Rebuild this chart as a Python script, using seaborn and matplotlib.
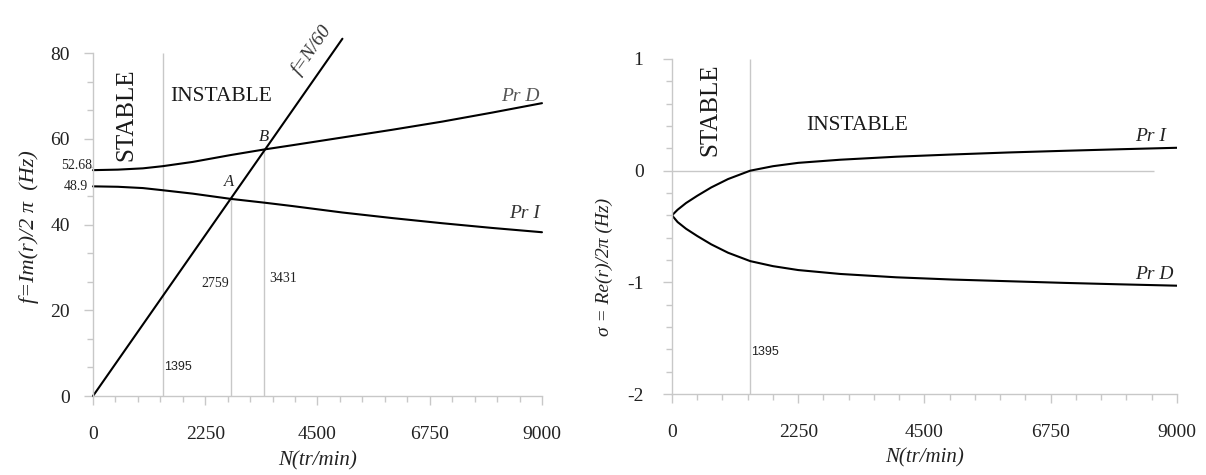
import numpy as np
import pandas as pd
import matplotlib
matplotlib.use('Agg')
from matplotlib import pyplot as plt
from matplotlib.ticker import MultipleLocator
import seaborn as sns

# frequences (partie imaginaire) -- figure de gauche
N_im = [0, 500, 1000, 1395, 2000, 2759, 3431, 4000, 5000, 6000, 7000, 8000, 9000]
f_prd = [52.68, 52.8, 53.1, 53.6, 54.6, 56.2, 57.5, 58.5, 60.3, 62.1, 64.0, 66.1, 68.3]
f_pri = [48.9, 48.8, 48.5, 48.0, 47.2, 45.98, 45.1, 44.3, 42.8, 41.5, 40.3, 39.2, 38.2]
N_line = [0, 5000]
f_line = [0, 5000 / 60]

# amortissement (partie reelle) -- figure de droite
N_re = [0, 100, 250, 450, 700, 1000, 1395, 1800, 2250, 3000, 4000, 5000, 6000, 7000, 8000, 9000]
s_pri = [-0.40, -0.35, -0.29, -0.225, -0.15, -0.075, 0.0, 0.04, 0.07, 0.098, 0.125, 0.145, 0.163, 0.178, 0.192, 0.205]
s_prd = [-0.40, -0.46, -0.52, -0.585, -0.66, -0.735, -0.81, -0.855, -0.89, -0.925, -0.955, -0.975, -0.99, -1.005, -1.018, -1.03]

# vitesses critiques
N_stab = 1395
N_A = 2759
N_B = 3431

x_ticks = [0, 2250, 4500, 6750, 9000]
y_ticks_im = [0, 20, 40, 60, 80]
y_ticks_re = [-2, -1, 0, 1]

sns.set_style("white")
plt.rcParams['font.family'] = ['Liberation Serif', 'DejaVu Serif']
plt.rcParams['axes.unicode_minus'] = False

grey = '#c8c8c8'
fig = plt.figure(figsize=(12.06, 4.75), dpi=100)
ax1 = fig.add_axes([0.0771, 0.1663, 0.3723, 0.7221])
ax2 = fig.add_axes([0.5572, 0.1705, 0.4187, 0.7053])


def style_axes(ax, ymin, ymax, yticks, yminor, ypad):
    ax.set_xlim(0, 9000)
    ax.set_ylim(ymin, ymax)
    ax.set_xticks(x_ticks)
    ax.set_yticks(yticks)
    ax.xaxis.set_minor_locator(MultipleLocator(450))
    ax.yaxis.set_minor_locator(MultipleLocator(yminor))
    for s in ['top', 'right']:
        ax.spines[s].set_visible(False)
    for s in ['left', 'bottom']:
        ax.spines[s].set_color(grey)
        ax.spines[s].set_linewidth(1)
    ax.tick_params(which='both', bottom=True, left=True, top=False, right=False)
    ax.tick_params(which='major', direction='out', length=6.5, width=1, color=grey,
                   labelsize=14, labelcolor='#222222')
    ax.tick_params(which='minor', direction='out', length=4, width=1, color=grey)
    ax.tick_params(axis='x', which='major', pad=15)
    ax.tick_params(axis='y', which='major', pad=ypad)
    ax.set_xlabel('')
    ax.set_ylabel('')
    ax.text(0.5, -0.19, 'N(tr/min)', transform=ax.transAxes, ha='center', va='center',
            fontsize=15, fontstyle='italic', color='#222222')


# ---- gauche ----
ax1.vlines(N_stab, 0, 80, color=grey, lw=1)
ax1.vlines(N_A, 0, N_A / 60, color=grey, lw=1)
ax1.vlines(N_B, 0, N_B / 60, color=grey, lw=1)
sns.lineplot(x=N_im, y=f_prd, ax=ax1, color='black', lw=1.5, sort=False, estimator=None)
sns.lineplot(x=N_im, y=f_pri, ax=ax1, color='black', lw=1.5, sort=False, estimator=None)
sns.lineplot(x=N_line, y=f_line, ax=ax1, color='black', lw=1.5, sort=False, estimator=None)
style_axes(ax1, 0, 80, y_ticks_im, 20 / 3, 10)
for t in ax1.get_lines():
    t.set_clip_on(False)

ax1.text(664, 65.5, 'STABLE', rotation=90, ha='center', va='center', fontsize=18, color='#1a1a1a')
ax1.text(2576, 69.8, 'INSTABLE', ha='center', va='center', fontsize=15.5, color='#1a1a1a')
ax1.text(4383, 80.7, 'f=N/60', rotation=55, ha='center', va='center', fontsize=14,
         fontstyle='italic', color='#333333')
ax1.text(8575, 69.8, 'Pr D', ha='center', va='center', fontsize=14, fontstyle='italic', color='#555555')
ax1.text(8658, 42.6, 'Pr I', ha='center', va='center', fontsize=14, fontstyle='italic', color='#333333')
ax1.text(3424, 60.5, 'B', ha='center', va='center', fontsize=12, fontstyle='italic', color='#222222')
ax1.text(2734, 50.0, 'A', ha='center', va='center', fontsize=12, fontstyle='italic', color='#222222')
ax1.text(-20, 53.7, '52.68', ha='right', va='center', fontsize=10, color='#222222', clip_on=False)
ax1.text(-90, 48.8, '48.9', ha='right', va='center', fontsize=10, color='#222222', clip_on=False)
ax1.text(N_A - 40, 26.3, str(N_A), ha='right', va='center', fontsize=10, color='#222222')
ax1.text(N_B + 100, 27.3, str(N_B), ha='left', va='center', fontsize=10, color='#222222')
ax1.text(N_stab + 20, 6.8, str(N_stab), ha='left', va='center', fontsize=9,
         family=['Liberation Sans', 'DejaVu Sans'], color='#222222')
fig.text(29 / 1206, 1 - 227 / 475, r'f=Im(r)/2 π  (Hz)', rotation=90, ha='center', va='center',
         fontsize=16, fontstyle='italic', color='#222222')

# ---- droite ----
ax2.hlines(0, 0, 8600, color=grey, lw=1)
ax2.vlines(N_stab, -2, 1, color=grey, lw=1)
sns.lineplot(x=N_re, y=s_pri, ax=ax2, color='black', lw=1.5, sort=False, estimator=None)
sns.lineplot(x=N_re, y=s_prd, ax=ax2, color='black', lw=1.5, sort=False, estimator=None)
style_axes(ax2, -2, 1, y_ticks_re, 0.2, 14)

ax2.text(693, 0.545, 'STABLE', rotation=90, ha='center', va='center', fontsize=18, color='#1a1a1a')
ax2.text(3298, 0.40, 'INSTABLE', ha='center', va='center', fontsize=15.5, color='#1a1a1a')
ax2.text(8530, 0.31, 'Pr I', ha='center', va='center', fontsize=14, fontstyle='italic', color='#222222')
ax2.text(8590, -0.93, 'Pr D', ha='center', va='center', fontsize=14, fontstyle='italic', color='#222222')
ax2.text(N_stab + 20, -1.625, str(N_stab), ha='left', va='center', fontsize=9,
         family=['Liberation Sans', 'DejaVu Sans'], color='#222222')
fig.text(604 / 1206, 1 - 267 / 475, r'σ = Re(r)/2π (Hz)', rotation=90, ha='center', va='center',
         fontsize=14, fontstyle='italic', color='#222222')

plt.savefig('out.png', dpi=100)
